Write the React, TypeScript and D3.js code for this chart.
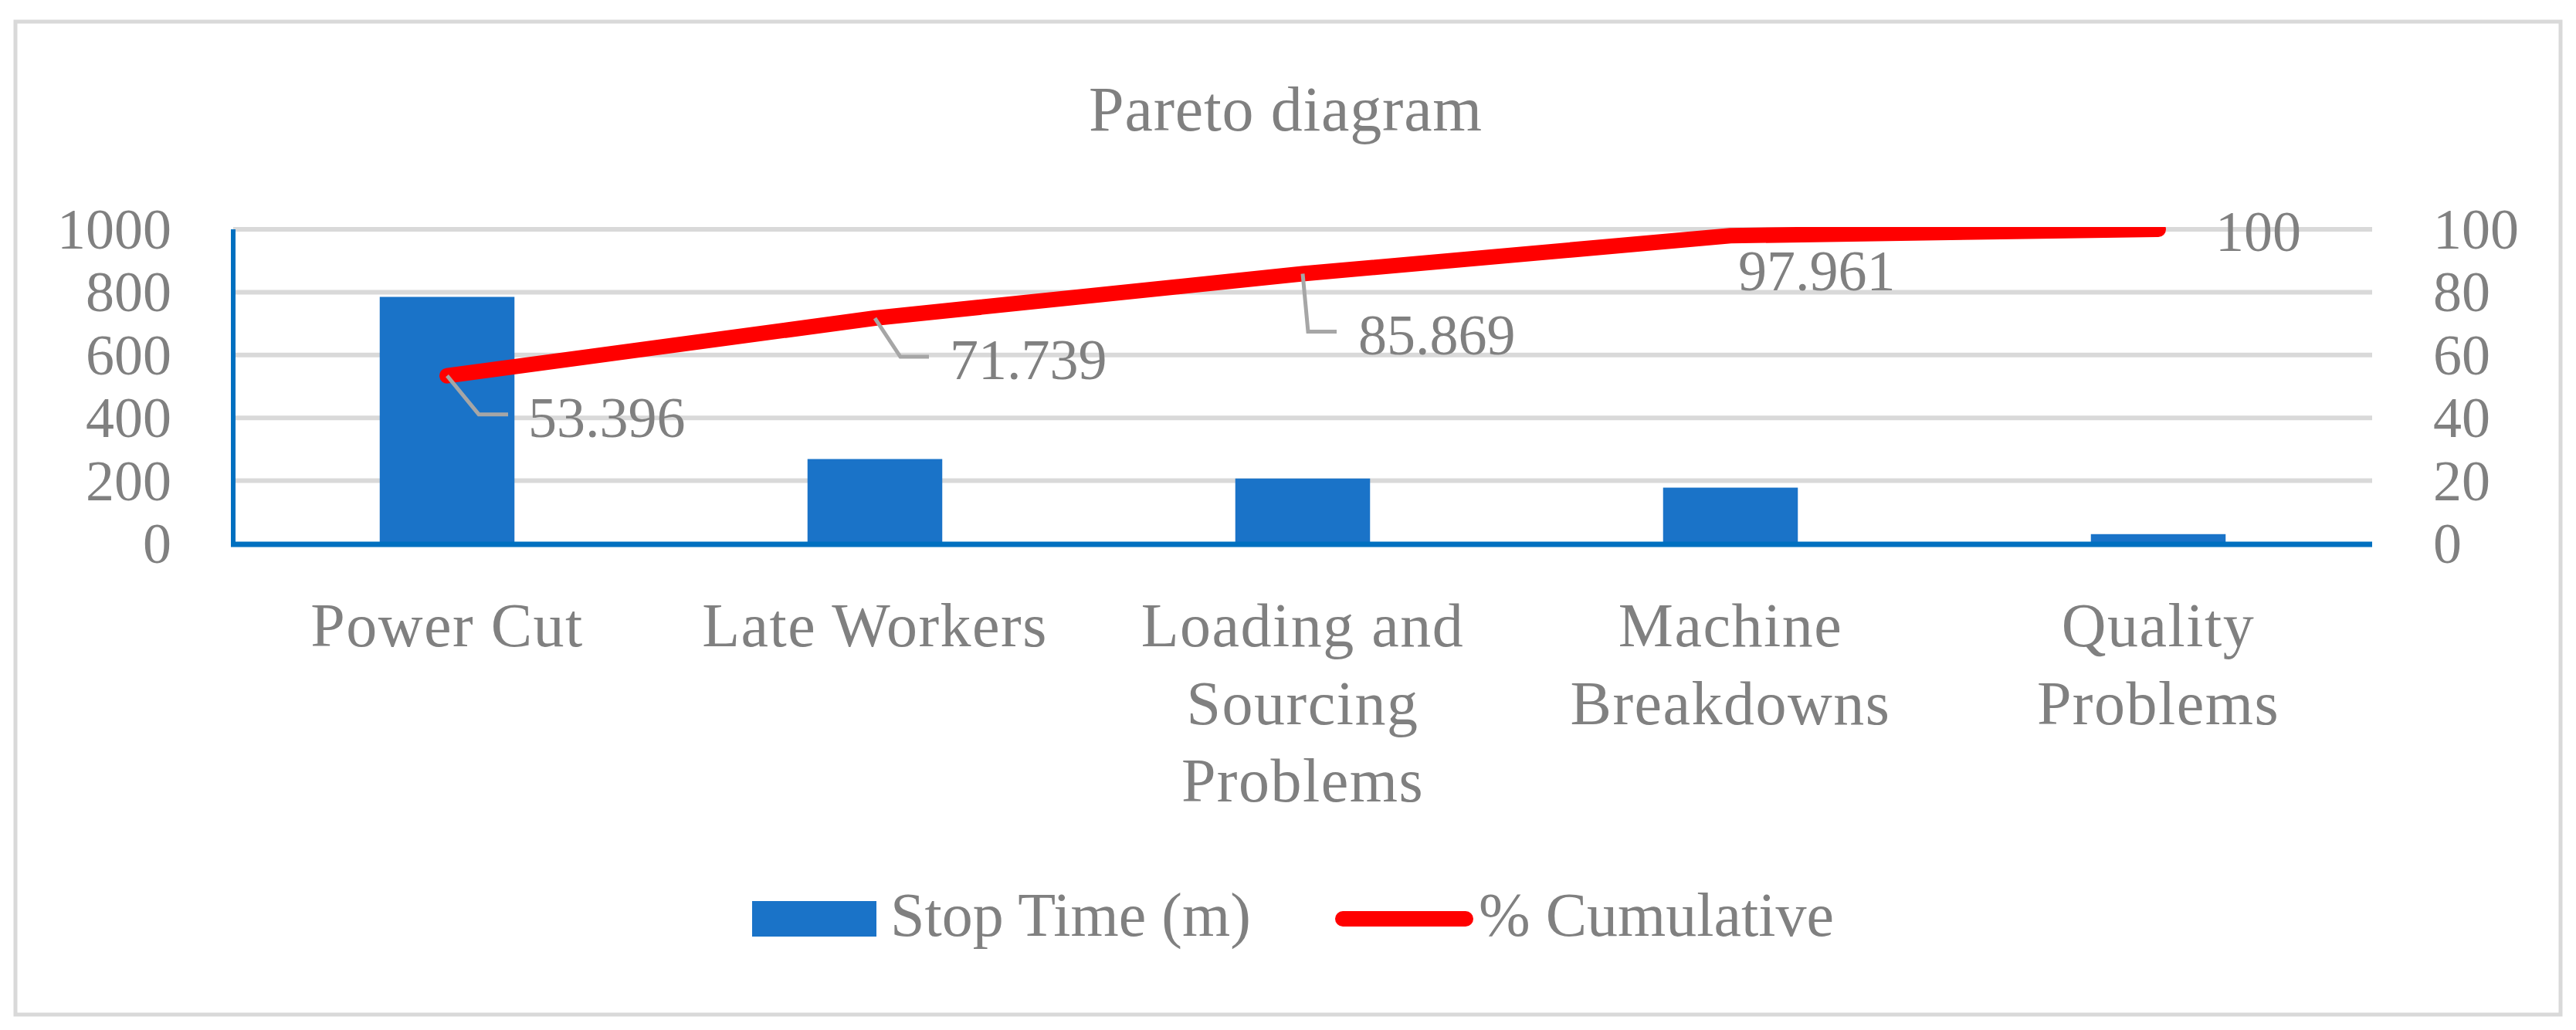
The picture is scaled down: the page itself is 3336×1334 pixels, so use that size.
import React, { useEffect } from "react";
import * as d3 from "d3";

const title = "Pareto diagram";
const categories = [
  "Power Cut",
  "Late Workers",
  "Loading and Sourcing Problems",
  "Machine Breakdowns",
  "Quality Problems",
];
const categoryLines = [
  ["Power Cut"],
  ["Late Workers"],
  ["Loading and", "Sourcing", "Problems"],
  ["Machine", "Breakdowns"],
  ["Quality", "Problems"],
];
const stopTime = [785, 269, 207, 178, 30];
const cumulative = [53.396, 71.739, 85.869, 97.961, 100];
const cumulativeLabels = ["53.396", "71.739", "85.869", "97.961", "100"];
const leftTicks = [0, 200, 400, 600, 800, 1000];
const rightTicks = [0, 20, 40, 60, 80, 100];
const seriesNames = ["Stop Time (m)", "% Cumulative"];

// label placement (styling, relative to the point)
const labelStyle = [
  { leader: [[0, 0], [41, 50], [79, 50]], dx: 105, dy: 79 },
  { leader: [[0, 0], [33, 50], [70, 50]], dx: 97, dy: 79 },
  { leader: [[0, 0], [7, 75], [44, 75]], dx: 72, dy: 104 },
  { leader: null, dx: 10, dy: 71 },
  { leader: null, dx: 74, dy: 28 },
];

const W = 3336;
const H = 1334;
const M = { left: 302, right: 3072, top: 297, bottom: 704 };
const FONT = "'Liberation Serif', 'Times New Roman', serif";
const GRAY = "#808080";
const BLUE_BAR = "#1a73c8";
const AXIS_BLUE = "#0070c0";
const RED = "#ff0000";
const GRID = "#d9d9d9";

export default function App() {
  useEffect(() => {
    document.body.style.margin = "0";
    document.body.style.overflow = "hidden";
  }, []);

  const x = d3.scaleBand<string>().domain(categories).range([M.left, M.right]).padding(0);
  const bw = x.bandwidth() * 0.315;
  const yL = d3.scaleLinear().domain([0, 1000]).range([M.bottom, M.top]);
  const yR = d3.scaleLinear().domain([0, 100]).range([M.bottom, M.top]);
  const cx = (c: string) => (x(c) as number) + x.bandwidth() / 2;

  const pts = categories.map((c, i) => [cx(c), yR(cumulative[i])] as [number, number]);
  const linePath = d3.line()(pts) as string;

  return (
    <svg width={W} height={H} style={{ position: "absolute", left: 0, top: 0, background: "#fff" }}>
      <defs>
        <clipPath id="plotClip">
          <rect x={0} y={M.top - 3} width={W} height={H} />
        </clipPath>
      </defs>
      <rect x={0} y={0} width={W} height={H} fill="#fff" />
      <rect x={20} y={28} width={3296} height={1286} fill="none" stroke={GRID} strokeWidth={5} />

      <text x={1665} y={169} textAnchor="middle" fontFamily={FONT} fontSize={82} letterSpacing={0.8} fill={GRAY}>
        {title}
      </text>

      {/* gridlines */}
      {leftTicks.filter((t) => t > 0).map((t) => (
        <line key={t} x1={M.left} x2={M.right} y1={yL(t)} y2={yL(t)} stroke={GRID} strokeWidth={6} />
      ))}

      {/* bars */}
      {categories.map((c, i) => (
        <rect key={c} x={cx(c) - bw / 2} y={yL(stopTime[i])} width={bw} height={M.bottom - yL(stopTime[i])} fill={BLUE_BAR} />
      ))}

      {/* axes lines */}
      <line x1={M.left} x2={M.left} y1={M.top} y2={M.bottom + 4} stroke={AXIS_BLUE} strokeWidth={6} />
      <line x1={M.left - 3} x2={M.right} y1={M.bottom + 1} y2={M.bottom + 1} stroke={AXIS_BLUE} strokeWidth={7} />

      {/* left ticks */}
      {leftTicks.map((t) => (
        <text key={t} x={222} y={yL(t) + 25} textAnchor="end" fontFamily={FONT} fontSize={74} fill={GRAY}>
          {t}
        </text>
      ))}
      {/* right ticks */}
      {rightTicks.map((t) => (
        <text key={t} x={3151} y={yR(t) + 25} textAnchor="start" fontFamily={FONT} fontSize={74} fill={GRAY}>
          {t}
        </text>
      ))}

      {/* category labels */}
      {categories.map((c, i) => (
        <text key={c} textAnchor="middle" fontFamily={FONT} fontSize={80} letterSpacing={1.5} fill={GRAY}>
          {categoryLines[i].map((ln, j) => (
            <tspan key={j} x={cx(c)} y={837 + j * 100.5}>
              {ln}
            </tspan>
          ))}
        </text>
      ))}

      {/* cumulative line */}
      <path d={linePath} fill="none" stroke={RED} strokeWidth={20} strokeLinejoin="round" strokeLinecap="round" clipPath="url(#plotClip)" />

      {/* data labels */}
      {pts.map(([px, py], i) => {
        const s = labelStyle[i];
        return (
          <g key={i}>
            {s.leader && (
              <polyline
                points={s.leader.map(([dx, dy]) => `${px + dx},${py + dy}`).join(" ")}
                fill="none"
                stroke="#a6a6a6"
                strokeWidth={5}
              />
            )}
            <text x={px + s.dx} y={py + s.dy} fontFamily={FONT} fontSize={74} fill={GRAY}>
              {cumulativeLabels[i]}
            </text>
          </g>
        );
      })}

      {/* legend */}
      <rect x={974} y={1167} width={161} height={46} fill={BLUE_BAR} />
      <text x={1153} y={1212} fontFamily={FONT} fontSize={80} fill={GRAY}>
        {seriesNames[0]}
      </text>
      <line x1={1739} x2={1898} y1={1190} y2={1190} stroke={RED} strokeWidth={20} strokeLinecap="round" />
      <text x={1915} y={1212} fontFamily={FONT} fontSize={80} fill={GRAY}>
        {seriesNames[1]}
      </text>
    </svg>
  );
}
